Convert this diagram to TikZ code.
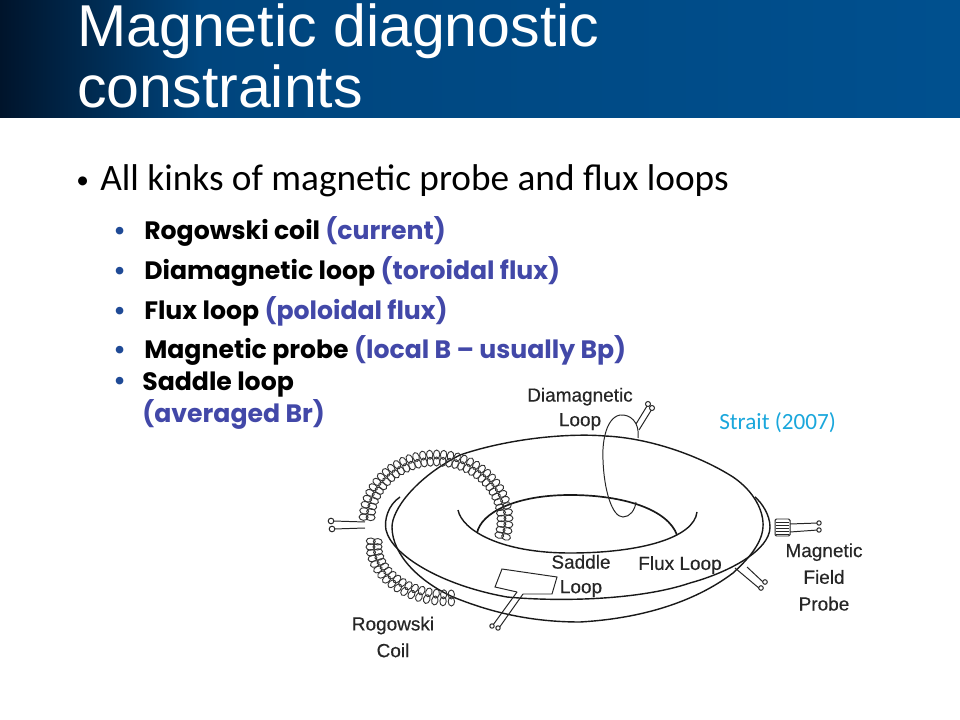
\documentclass[tikz,border=0pt]{standalone}
\usepackage{fontspec}
\setmainfont{Liberation Sans}
\newfontfamily\bodyfont{Carlito}
\newfontfamily\subfont{Poppins}
\newfontfamily\figfont{Liberation Sans}[FakeBold=0.35]
\usetikzlibrary{positioning}
\definecolor{barblue}{HTML}{00508F}
\definecolor{barmid}{HTML}{00457D}
\definecolor{bardark}{HTML}{00142B}
\definecolor{bullet}{HTML}{1F4A96}
\definecolor{paren}{HTML}{4248A8}
\definecolor{cite}{HTML}{1AA7DC}
\tikzset{
  headline/.style={text=white,anchor=base west,inner sep=0pt,font=\fontsize{42}{42}\selectfont},
  bodyline/.style={anchor=base west,inner sep=0pt,font=\bodyfont\fontsize{26.5}{26.5}\selectfont,text=black},
  subline/.style={anchor=base west,inner sep=0pt,font=\subfont\bfseries\fontsize{17.9}{17.9}\selectfont,text=black},
  figlabel/.style={align=center,font=\figfont\fontsize{13.5}{17.5}\selectfont,text=black!85,inner sep=0pt},
  wire/.style={line width=1pt,black!90},
  thinwire/.style={line width=0.7pt,black!85},
  turn/.style={line width=0.65pt,black!80},
  leadend/.style={line width=0.7pt,black!85,fill=white}
}
\newcommand{\paren}[1]{\textcolor{paren}{#1}}
\begin{document}
\begin{tikzpicture}[x=0.025cm,y=-0.025cm]
\useasboundingbox (0,0) rectangle (960,720);
\fill[white] (0,0) rectangle (960,720);
% title bar
\fill[left color=bardark,right color=barmid] (0,0) rectangle (200,118);
\fill[left color=barmid,right color=barblue] (200,0) rectangle (960,118);
\node[headline] (title1) at (77,47) {Magnetic diagnostic};
\node[headline] (title2) at (77,108) {constraints};

\node[bodyline,font=\bodyfont\fontsize{18}{18}\selectfont] (dot0) at (76,189) {•};
\node[bodyline] (body) at (100,191) {All kinks of magnetic probe and flux loops};

\foreach \n/\y/\a/\b in {rog/240/Rogowski coil/(current),dia/280/Diamagnetic loop/(toroidal flux),flx/320/Flux loop/(poloidal flux),prb/359/Magnetic probe/(local B – usually Bp)}{
  \node[subline,text=bullet] (dot\n) at (113,\y) {•};
  \node[subline] (line\n) at (144,\y) {\a{} \paren{\b}};
}
\node[subline,text=bullet] (dotsad) at (113,390) {•};
\node[subline] (linesad) at (142,391) {Saddle loop};
\node[subline] (linesad2) at (142,423) {\paren{(averaged Br)}};

\node[anchor=base west,inner sep=0pt,text=cite,font=\bodyfont\fontsize{16.5}{16.5}\selectfont] (strait) at (719,430) {Strait (2007)};

% torus outline
\draw[wire] (460,455) .. controls (510,438) and (570,433) .. (605,436)
  .. controls (650,438) and (700,456) .. (733,477)
  .. controls (755,492) and (764,512) .. (763,527)
  .. controls (762,545) and (745,562) .. (733,573)
  .. controls (700,598) and (650,618) .. (580,622)
  .. controls (530,622) and (490,612) .. (453,597)
  .. controls (420,582) and (392,555) .. (392,527)
  .. controls (392,510) and (415,478) .. (460,455);
% hole
\draw[wire,line width=1.2pt] (477,533) .. controls (481,513) and (515,495) .. (570,495)
  .. controls (625,495) and (668,510) .. (677,535);
\draw[wire] (458,510) .. controls (462,530) and (500,553) .. (570,553)
  .. controls (640,553) and (694,538) .. (697,512);
% flux loop
\draw[wire] (400,497) .. controls (388,505) and (384,520) .. (386,530)
  .. controls (392,555) and (440,585) .. (507,597)
  .. controls (560,602) and (640,600) .. (690,583)
  .. controls (730,572) and (770,550) .. (770,527)
  .. controls (770,515) and (762,503) .. (755,497);
% diamagnetic loop
\draw[thinwire] (638,438) .. controls (640,422) and (630,414) .. (620,415)
  .. controls (605,418) and (602,445) .. (603,460)
  .. controls (604,490) and (612,517) .. (623,517)
  .. controls (630,517) and (635,510) .. (636,502);
\draw[thinwire] (636,424) -- (647,406);
\draw[thinwire] (639,430) -- (652,409);
\draw[leadend] (648,404) circle (2.5);
\draw[leadend] (652,408) circle (2.5);
% rogowski coil, upper and lower part
\foreach \r in {-3.5,3.5}{
  \foreach \a in {-15,-9.5,...,180}{
    \draw[turn,shift={({436+(69+\r)*cos(\a)},{520-(62+\r)*sin(\a)})},rotate=\a] (0,0) ellipse (4.5 and 3.2);
  }
  \foreach \a in {175,181,...,272}{
    \draw[turn,shift={({450+(76+\r)*cos(\a)},{546-(52+\r)*sin(\a)})},rotate=\a] (0,0) ellipse (4.5 and 3.2);
  }
}
\draw[thinwire] (365,522) -- (333,521);
\draw[thinwire] (365,528) -- (334,529);
\draw[leadend] (331,521) circle (2.8);
\draw[leadend] (332,529) circle (2.8);
% saddle loop
\draw[thinwire] (517,592) -- (495,587) -- (502,569) -- (557,577) -- (552,594) -- (523,594);
\draw[thinwire] (517,592) -- (493,625);
\draw[thinwire] (523,594) -- (499,628);
\draw[leadend] (492,626) circle (2.2);
\draw[leadend] (498,628) circle (2.2);
% flux loop leads
\draw[thinwire] (735,568) -- (760,589);
\draw[thinwire] (747,567) -- (763,582);
\draw[leadend] (761,588) circle (2.3);
\draw[leadend] (765,582) circle (2.3);
% field probe
\draw[thinwire,rounded corners=1pt] (775,519) rectangle (790,536);
\foreach \y in {522,525,...,534}{
  \draw[thinwire] (776,\y) -- (789,\y);
}
\draw[thinwire] (790,524) -- (818,523);
\draw[thinwire] (790,532) -- (818,530);
\draw[leadend] (819,523) circle (2.2);
\draw[leadend] (819,530) circle (2.2);

\node[figlabel] (diamag) at (580,409) {Diamagnetic\\Loop};
\node[figlabel] (saddle) at (581,576) {Saddle\\Loop};
\node[figlabel] (fluxlab) at (680,565) {Flux Loop};
\node[figlabel,font=\figfont\fontsize{13.5}{19}\selectfont] (probe) at (824,577) {Magnetic\\Field\\Probe};
\node[figlabel,font=\figfont\fontsize{13.5}{19}\selectfont] (rogow) at (393,637) {Rogowski\\Coil};
\end{tikzpicture}
\end{document}
